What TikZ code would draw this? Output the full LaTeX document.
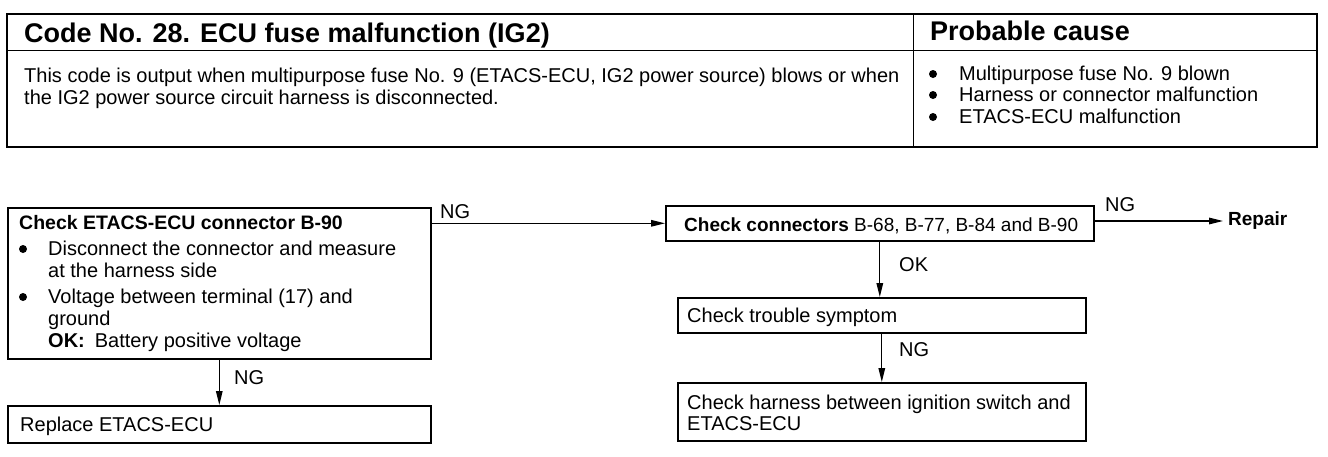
\documentclass[tikz,border=0pt]{standalone}
\usepackage{fontspec}
\setmainfont{Liberation Sans}
\usetikzlibrary{arrows.meta}
\tikzset{
  box/.style={draw, line width=1.6pt, anchor=north west, inner sep=0pt, align=left},
  txt/.style={anchor=base west, inner sep=0pt, font=\fontsize{20}{22}\selectfont},
  btxt/.style={anchor=base west, inner sep=0pt, font=\fontsize{19.5}{22}\selectfont\bfseries},
  lbl/.style={anchor=west, inner sep=0pt, font=\fontsize{20}{22}\selectfont},
  bull/.style={fill=black},
  conn/.style={line width=1.3pt, -{Triangle[length=14pt,width=6.5pt]}},
}
\begin{document}
\begin{tikzpicture}[x=1pt,y=-1pt]
\useasboundingbox (0,0) rectangle (1328,456);
% table
\draw[line width=1.8pt] (7,14) rectangle (1317,147);
\draw[line width=1pt] (7,50) -- (1317,50);
\draw[line width=1pt] (913,14) -- (913,147);
\node[anchor=base west, inner sep=0pt, font=\fontsize{27}{28}\selectfont\bfseries] (h1) at (24,42) {Code No. 28. ECU fuse malfunction (IG2)};
\node[anchor=base west, inner sep=0pt, font=\fontsize{27}{28}\selectfont\bfseries] (h2) at (930,40) {Probable cause};
\node[txt] (d1) at (24,82) {This code is output when multipurpose fuse No. 9 (ETACS-ECU, IG2 power source) blows or when};
\node[txt] (d2) at (24,104) {the IG2 power source circuit harness is disconnected.};
\fill[bull] (933,74) circle (4pt);
\fill[bull] (933,95) circle (4pt);
\fill[bull] (933,117) circle (4pt);
\node[txt] (c1) at (959,80) {Multipurpose fuse No. 9 blown};
\node[txt] (c2) at (959,101) {Harness or connector malfunction};
\node[txt] (c3) at (959,123) {ETACS-ECU malfunction};
% flowchart boxes
\node[box, minimum width=423pt, minimum height=151pt] (b1) at (7,207) {};
\node[btxt] (t1) at (19,229) {Check ETACS-ECU connector B-90};
\fill[bull] (23,249) circle (4pt);
\node[txt] (t2) at (48,255) {Disconnect the connector and measure};
\node[txt] (t3) at (48,277) {at the harness side};
\fill[bull] (23,297) circle (4pt);
\node[txt] (t4) at (48,303) {Voltage between terminal (17) and};
\node[txt] (t5) at (48,325) {ground};
\node[txt] (t6) at (48,347) {\textbf{OK:}\hspace{10pt}Battery positive voltage};
\node[box, minimum width=423pt, minimum height=37pt] (b5) at (7,405) {};
\node[txt] (t7) at (20,431) {Replace ETACS-ECU};
\node[box, minimum width=428pt, minimum height=35pt] (b2) at (665,205) {};
\node[txt] (t8) at (684,231) {\fontsize{19}{22}\selectfont\textbf{Check connectors} B-68, B-77, B-84 and B-90};
\node[box, minimum width=408pt, minimum height=35pt] (b3) at (677,297) {};
\node[txt] (t9) at (687,322) {Check trouble symptom};
\node[box, minimum width=408pt, minimum height=58pt] (b4) at (677,382) {};
\node[txt] (t10) at (687,409) {Check harness between ignition switch and};
\node[txt] (t11) at (687,430) {ETACS-ECU};
\node[anchor=west, inner sep=0pt, font=\fontsize{19}{20}\selectfont\bfseries] (rep) at (1228,221) {Repair};
% connectors
\draw[conn] (b1.east |- b2.west) -- (b2.west);
\draw[conn] (b2.east |- rep.west) -- ([xshift=-5pt]rep.west);
\draw[conn] (b2.south) -- (b2.south |- b3.north);
\draw[conn] (b3.south) -- (b3.south |- b4.north);
\draw[conn] (b1.south) -- (b5.north);
% labels
\node[lbl] (n1) at (440,212) {NG};
\node[lbl] (n2) at (1105,205) {NG};
\node[lbl] (n3) at (899,265) {OK};
\node[lbl] (n4) at (899,350) {NG};
\node[lbl] (n5) at (234,378) {NG};
\end{tikzpicture}
\end{document}
